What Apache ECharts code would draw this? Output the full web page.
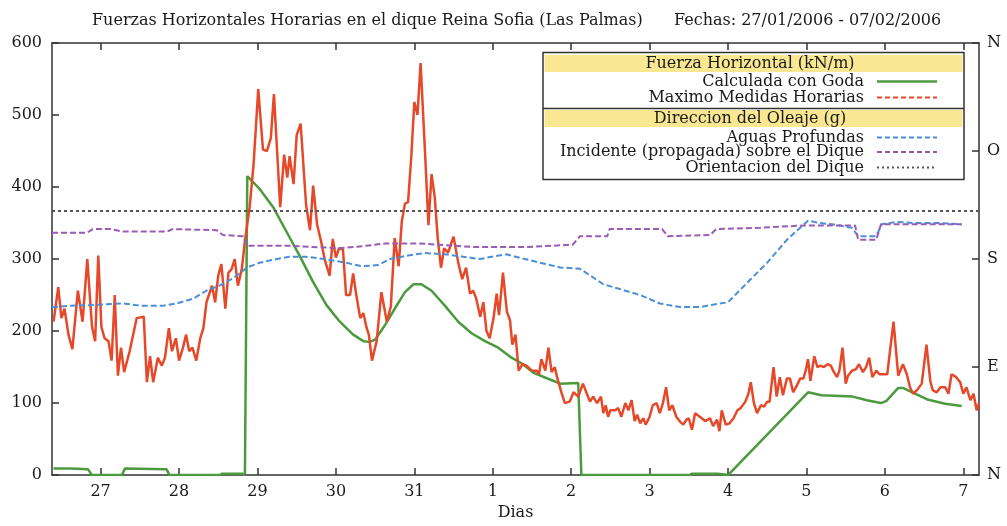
<!DOCTYPE html>
<html>
<head>
<meta charset="utf-8">
<script src="https://cdn.jsdelivr.net/npm/echarts@6/dist/echarts.min.js"></script>
<style>
  html, body { margin: 0; padding: 0; background: #fff; }
  #chart { width: 1007px; height: 526px; }
</style>
</head>
<body>
<div id="chart"></div>
<script>
// Time axis: days counted from 27/01/2006 00:00 (27 Jan = 0, 1 Feb = 5, 7 Feb = 11)
const dayLabels = ['27', '28', '29', '30', '31', '1', '2', '3', '4', '5', '6', '7'];
const dirLabels = ['N', 'E', 'S', 'O', 'N'];
const forceTicks = [0, 100, 200, 300, 400, 500, 600];

// Fuerza horizontal calculada con Goda (kN/m)
const goda = [
  [-0.60, 9], [-0.39, 9], [-0.16, 8], [-0.11, 0], [0.27, 0], [0.31, 9], [0.84, 8], [0.88, 0],
  [1.52, 0], [1.55, 2], [1.80, 2], [1.84, 1], [1.87, 415], [2.03, 397], [2.20, 372], [2.36, 340],
  [2.54, 304], [2.71, 268], [2.88, 236], [3.05, 213], [3.22, 195], [3.35, 186], [3.43, 185],
  [3.50, 188], [3.63, 209], [3.75, 231], [3.88, 254], [3.99, 265], [4.09, 265], [4.22, 256],
  [4.40, 234], [4.56, 213], [4.73, 197], [4.90, 186], [5.07, 177], [5.24, 163], [5.37, 155],
  [5.52, 142], [5.77, 131], [5.86, 127], [6.09, 128], [6.13, 0], [7.51, 0], [7.54, 2],
  [7.87, 2], [8.00, 0], [9.02, 115], [9.19, 111], [9.43, 110], [9.59, 109], [9.77, 104],
  [9.95, 100], [10.02, 103], [10.17, 121], [10.23, 121], [10.35, 115], [10.54, 105],
  [10.77, 99], [10.98, 96]
];

// Maximo de las medidas horarias (kN/m)
const maxHorarias = [
  [-0.60, 213], [-0.54, 261], [-0.50, 218], [-0.46, 231], [-0.41, 195], [-0.36, 175], [-0.29, 256],
  [-0.23, 213], [-0.17, 300], [-0.11, 206], [-0.07, 186], [-0.03, 305], [0.01, 206], [0.05, 190],
  [0.10, 186], [0.14, 159], [0.18, 250], [0.22, 138], [0.26, 177], [0.30, 143], [0.37, 172],
  [0.46, 218], [0.55, 220], [0.59, 129], [0.63, 165], [0.67, 129], [0.73, 163], [0.78, 152],
  [0.82, 163], [0.87, 204], [0.91, 172], [0.96, 190], [1.00, 159], [1.05, 177], [1.09, 195],
  [1.13, 172], [1.17, 177], [1.22, 159], [1.27, 190], [1.31, 204], [1.35, 240], [1.42, 263],
  [1.46, 240], [1.50, 277], [1.54, 293], [1.59, 231], [1.63, 281], [1.67, 286], [1.71, 300],
  [1.75, 263], [1.80, 286], [1.84, 325], [1.90, 372], [1.95, 431], [2.01, 536], [2.07, 452],
  [2.12, 450], [2.17, 468], [2.21, 529], [2.29, 372], [2.34, 445], [2.38, 413], [2.41, 443],
  [2.46, 404], [2.50, 472], [2.55, 488], [2.62, 375], [2.67, 340], [2.71, 402], [2.76, 348],
  [2.81, 325], [2.86, 298], [2.92, 277], [2.96, 328], [3.00, 302], [3.04, 315], [3.09, 313],
  [3.13, 250], [3.18, 250], [3.22, 280], [3.26, 250], [3.31, 218], [3.35, 225], [3.39, 205],
  [3.42, 195], [3.46, 159], [3.52, 186], [3.58, 254], [3.65, 213], [3.70, 234], [3.75, 329],
  [3.80, 290], [3.84, 352], [3.88, 377], [3.92, 379], [3.96, 440], [4.00, 518], [4.04, 500],
  [4.08, 572], [4.14, 440], [4.18, 347], [4.22, 418], [4.26, 386], [4.30, 327], [4.34, 288],
  [4.38, 315], [4.43, 309], [4.50, 331], [4.56, 295], [4.61, 272], [4.66, 288], [4.71, 252],
  [4.75, 256], [4.79, 245], [4.84, 220], [4.88, 240], [4.92, 200], [4.96, 190], [5.01, 218],
  [5.05, 252], [5.08, 222], [5.13, 281], [5.18, 227], [5.22, 215], [5.25, 181], [5.29, 195],
  [5.33, 145], [5.38, 154], [5.43, 152], [5.50, 145], [5.56, 145], [5.59, 140], [5.62, 161],
  [5.67, 145], [5.71, 177], [5.75, 143], [5.79, 150], [5.82, 136], [5.88, 113], [5.92, 100],
  [5.98, 102], [6.03, 115], [6.09, 109], [6.15, 127], [6.20, 113], [6.24, 102], [6.28, 109],
  [6.33, 100], [6.38, 109], [6.41, 86], [6.44, 97], [6.47, 81], [6.50, 90], [6.56, 90],
  [6.60, 93], [6.64, 81], [6.69, 100], [6.73, 90], [6.77, 104], [6.81, 75], [6.84, 84],
  [6.88, 72], [6.92, 79], [6.95, 70], [7.00, 81], [7.04, 97], [7.09, 100], [7.13, 86],
  [7.17, 100], [7.21, 122], [7.25, 90], [7.29, 97], [7.34, 81], [7.39, 74], [7.43, 70],
  [7.47, 77], [7.50, 79], [7.54, 63], [7.58, 86], [7.64, 81], [7.71, 75], [7.77, 79],
  [7.81, 68], [7.86, 77], [7.89, 61], [7.92, 90], [7.97, 70], [8.02, 72], [8.07, 79],
  [8.12, 90], [8.16, 93], [8.22, 102], [8.26, 113], [8.29, 129], [8.33, 100], [8.37, 86],
  [8.42, 97], [8.46, 95], [8.50, 102], [8.53, 102], [8.58, 150], [8.62, 109], [8.66, 136],
  [8.70, 111], [8.75, 134], [8.79, 134], [8.83, 115], [8.88, 125], [8.92, 134], [8.96, 134],
  [8.99, 145], [9.02, 161], [9.05, 131], [9.10, 165], [9.14, 150], [9.18, 152], [9.22, 150],
  [9.27, 154], [9.31, 152], [9.35, 143], [9.39, 136], [9.42, 145], [9.46, 177], [9.50, 127],
  [9.53, 138], [9.58, 145], [9.63, 147], [9.67, 154], [9.72, 143], [9.76, 150], [9.80, 163],
  [9.84, 136], [9.89, 145], [9.93, 140], [9.97, 140], [10.03, 140], [10.11, 213], [10.17, 138],
  [10.23, 154], [10.28, 140], [10.32, 122], [10.36, 113], [10.41, 118], [10.47, 127],
  [10.53, 181], [10.58, 130], [10.61, 118], [10.66, 115], [10.71, 122], [10.77, 122],
  [10.81, 113], [10.85, 140], [10.91, 136], [10.96, 129], [11.00, 113], [11.04, 122],
  [11.09, 104], [11.13, 113], [11.17, 90], [11.20, 100]
];

// Direccion del oleaje en aguas profundas (grados, N = 0)
const aguasProfundas = [
  [-0.62, 140], [-0.39, 141], [-0.01, 142], [0.28, 143], [0.54, 141], [0.79, 141], [0.97, 143],
  [1.18, 147], [1.36, 154], [1.52, 158], [1.69, 164], [1.87, 173], [2.03, 177], [2.25, 180],
  [2.41, 182], [2.61, 182], [2.86, 180], [3.12, 177], [3.33, 174], [3.54, 175], [3.69, 180],
  [3.92, 183], [4.14, 185], [4.39, 184], [4.62, 182], [4.84, 180], [4.99, 182], [5.17, 184],
  [5.35, 181], [5.60, 177], [5.86, 173], [6.11, 172], [6.41, 159], [6.62, 155], [6.88, 150],
  [7.13, 143], [7.39, 140], [7.64, 140], [7.81, 142], [8.00, 144], [8.24, 160], [8.50, 177],
  [8.75, 196], [9.02, 212], [9.17, 210], [9.33, 209], [9.58, 206], [9.66, 199], [9.89, 199],
  [9.96, 209], [10.15, 211], [10.36, 210], [10.70, 210], [10.98, 209]
];

// Direccion incidente (propagada) sobre el dique (grados)
const incidente = [
  [-0.62, 202], [-0.17, 202], [-0.10, 205], [0.12, 205], [0.28, 203], [0.85, 203], [0.92, 205],
  [1.48, 204], [1.56, 200], [1.82, 199], [1.86, 191], [2.41, 191], [3.05, 189], [3.38, 191],
  [3.63, 193], [4.07, 193], [4.52, 191], [4.77, 190], [5.44, 190], [6.02, 192], [6.11, 199],
  [6.46, 199], [6.49, 205], [7.16, 205], [7.23, 199], [7.77, 200], [7.85, 205], [8.41, 206],
  [8.66, 207], [8.99, 208], [9.62, 208], [9.66, 196], [9.89, 196], [9.95, 209], [10.98, 209]
];

// Orientacion del dique (grados)
const orientacionDique = 220;

const X_MIN = -0.62;
const X_MAX = 11.2;
const dayTicks = dayLabels.map((_, i) => i);

const serif = '"DejaVu Serif", "Liberation Serif", serif';
const ink = '#1a1a1a';
const frame = '#333';

const colors = {
  goda: '#4b9a3d',
  max: '#e6482a',
  deep: '#4b8fd8',
  inc: '#9a5ab5',
  dique: '#555'
};

const chart = echarts.init(document.getElementById('chart'), null, { renderer: 'canvas' });

// Legend panel drawn as a framed table with two yellow headings
const lgX = 543, lgY = 52.5, lgW = 421, lgH = 127;
const textRight = 864, sampleX1 = 877, sampleX2 = 937;
const legendFont = '16px ' + serif;
const legendFontSmall = '15px ' + serif;
const legendRows = [
  { text: 'Calculada con Goda', y: 81.5, color: colors.goda, width: 2.5, dash: null, font: legendFont },
  { text: 'Maximo Medidas Horarias', y: 97.5, color: colors.max, width: 2, dash: [5, 3], font: legendFont },
  { text: 'Aguas Profundas', y: 137.5, color: colors.deep, width: 2, dash: [5, 3], font: legendFont },
  { text: 'Incidente (propagada) sobre el Dique', y: 152, color: colors.inc, width: 2, dash: [5, 3], font: legendFont },
  { text: 'Orientacion del Dique', y: 167.5, color: colors.dique, width: 1.8, dash: [2, 3], font: legendFont }
];
const legendHeads = [
  { text: 'Fuerza Horizontal (kN/m)', y: 55, h: 17 },
  { text: 'Direccion del Oleaje (g)', y: 110, h: 17 }
];

const graphics = [
  { type: 'rect', z: 100, shape: { x: lgX, y: lgY, width: lgW, height: lgH },
    style: { fill: '#fff', stroke: frame, lineWidth: 1.5 } },
  { type: 'line', z: 101, shape: { x1: lgX, y1: 108.5, x2: lgX + lgW, y2: 108.5 },
    style: { stroke: frame, lineWidth: 1.5 } }
];
legendHeads.forEach(h => {
  graphics.push({ type: 'rect', z: 101, shape: { x: lgX + 1.5, y: h.y, width: lgW - 3, height: h.h },
    style: { fill: '#f9e891' } });
  graphics.push({ type: 'text', z: 102, style: { text: h.text, x: 750, y: h.y + h.h / 2 + 0.5,
    font: legendFont, fill: ink, textAlign: 'center', textVerticalAlign: 'middle' } });
});
legendRows.forEach(r => {
  graphics.push({ type: 'text', z: 102, style: { text: r.text, x: textRight, y: r.y,
    font: r.font, fill: ink, textAlign: 'right', textVerticalAlign: 'middle' } });
  graphics.push({ type: 'line', z: 102, shape: { x1: sampleX1, y1: r.y, x2: sampleX2, y2: r.y },
    style: { stroke: r.color, lineWidth: r.width, lineDash: r.dash } });
});

const option = {
  animation: false,
  backgroundColor: '#fff',
  title: [
    { text: 'Fuerzas Horizontales Horarias en el dique Reina Sofia (Las Palmas)', left: 87, top: 8,
      textStyle: { fontFamily: serif, fontSize: 16, fontWeight: 'normal', color: ink } },
    { text: 'Fechas: 27/01/2006 - 07/02/2006', left: 669, top: 8,
      textStyle: { fontFamily: serif, fontSize: 16, fontWeight: 'normal', color: ink } }
  ],
  grid: { left: 52, right: 28, top: 43, bottom: 43, containLabel: false },
  xAxis: [
    {
      type: 'value', position: 'bottom', min: X_MIN, max: X_MAX,
      name: 'Dias', nameLocation: 'middle', nameGap: 27,
      nameTextStyle: { fontFamily: serif, fontSize: 16, color: ink },
      axisLine: { onZero: false, lineStyle: { color: frame, width: 1.5 } },
      axisTick: { inside: true, length: 7, customValues: dayTicks, lineStyle: { color: frame, width: 1.5 } },
      axisLabel: { customValues: dayTicks, margin: 9, fontFamily: serif, fontSize: 16, color: ink,
        formatter: v => dayLabels[Math.round(v)] },
      splitLine: { show: false }
    },
    {
      type: 'value', position: 'top', min: X_MIN, max: X_MAX,
      axisLine: { onZero: false, lineStyle: { color: frame, width: 1.5 } },
      axisTick: { inside: true, length: 7, customValues: dayTicks, lineStyle: { color: frame, width: 1.5 } },
      axisLabel: { show: false },
      splitLine: { show: false }
    }
  ],
  yAxis: [
    {
      type: 'value', position: 'left', min: 0, max: 600, interval: 100,
      axisLine: { show: true, onZero: false, lineStyle: { color: frame, width: 1.5 } },
      axisTick: { show: true, inside: true, length: 7, lineStyle: { color: frame, width: 1.5 } },
      axisLabel: { margin: 10, fontFamily: serif, fontSize: 16, color: ink,
        formatter: v => String(forceTicks[Math.round(v / 100)]) },
      splitLine: { show: false }
    },
    {
      type: 'value', position: 'right', min: 0, max: 360, interval: 90,
      axisLine: { show: true, onZero: false, lineStyle: { color: frame, width: 1.5 } },
      axisTick: { show: true, inside: true, length: 7, lineStyle: { color: frame, width: 1.5 } },
      axisLabel: { margin: 8, fontFamily: serif, fontSize: 16, color: ink,
        formatter: v => dirLabels[Math.round(v / 90)] },
      splitLine: { show: false }
    }
  ],
  series: [
    { name: 'Calculada con Goda', type: 'line', xAxisIndex: 0, yAxisIndex: 0, data: goda,
      showSymbol: false, clip: true, z: 3,
      lineStyle: { color: colors.goda, width: 2.5 } },
    { name: 'Maximo Medidas Horarias', type: 'line', xAxisIndex: 0, yAxisIndex: 0, data: maxHorarias,
      showSymbol: false, clip: true, z: 4,
      lineStyle: { color: colors.max, width: 2.5 } },
    { name: 'Aguas Profundas', type: 'line', xAxisIndex: 0, yAxisIndex: 1, data: aguasProfundas,
      showSymbol: false, clip: true, z: 5,
      lineStyle: { color: colors.deep, width: 2, type: [6, 3] } },
    { name: 'Incidente (propagada) sobre el Dique', type: 'line', xAxisIndex: 0, yAxisIndex: 1, data: incidente,
      showSymbol: false, clip: true, z: 5,
      lineStyle: { color: colors.inc, width: 2, type: [6, 3] } },
    { name: 'Orientacion del Dique', type: 'line', xAxisIndex: 0, yAxisIndex: 1,
      data: [[X_MIN, orientacionDique], [X_MAX, orientacionDique]],
      showSymbol: false, clip: true, z: 5,
      lineStyle: { color: colors.dique, width: 2, type: [3, 3] } }
  ],
  graphic: graphics
};

chart.setOption(option);
</script>
</body>
</html>
